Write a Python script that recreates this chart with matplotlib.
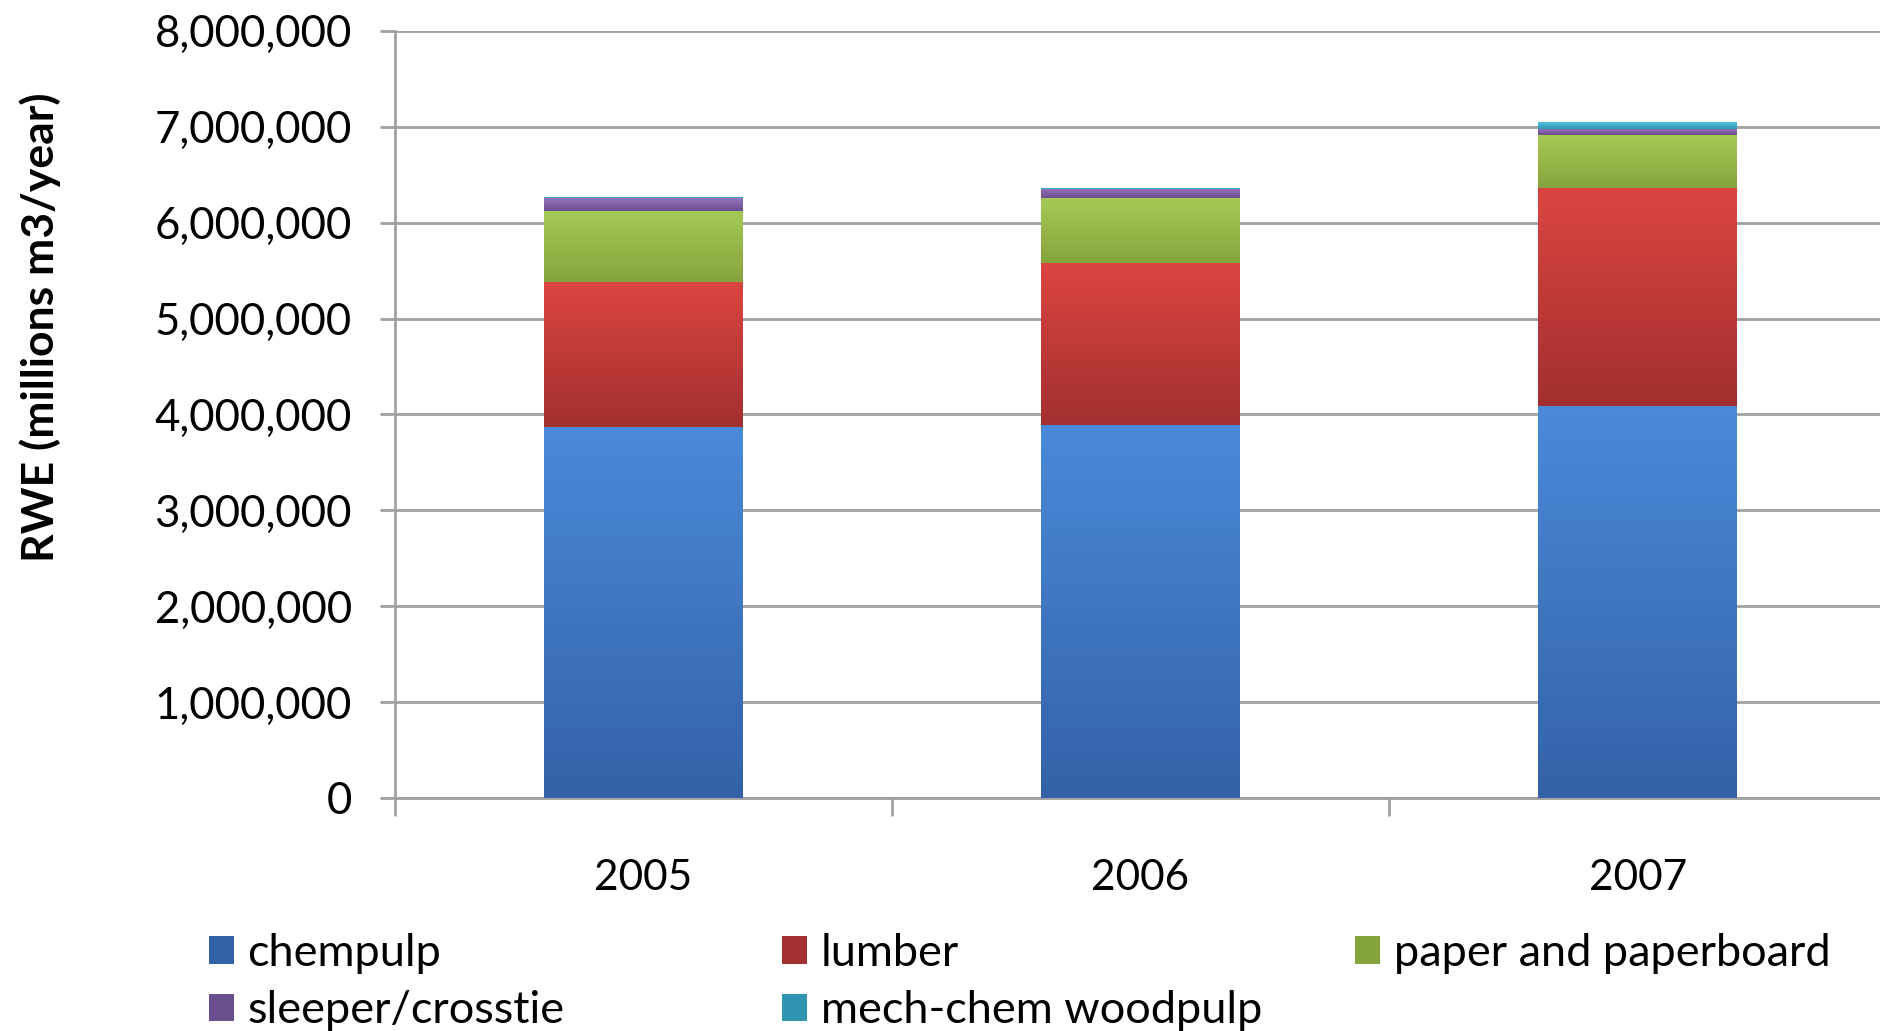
import matplotlib.pyplot as plt
import numpy as np
from matplotlib.colors import LinearSegmentedColormap
from matplotlib.ticker import FuncFormatter

# values (m3 RWE)
years = ['2005', '2006', '2007']
chempulp = [3867000, 3895000, 4084000]
lumber = [1518000, 1689000, 2279000]
paper = [741000, 675000, 548000]
sleeper = [134000, 94000, 69000]
mech_chem = [12000, 10000, 70000]

series = [
    ('chempulp', chempulp, '#4a8ad9', '#3462a8'),
    ('lumber', lumber, '#db4541', '#a33030'),
    ('paper and paperboard', paper, '#a6c955', '#86a43e'),
    ('sleeper/crosstie', sleeper, '#9674c0', '#6a4f8e'),
    ('mech-chem woodpulp', mech_chem, '#4fc3e0', '#2f95b0'),
]

plt.rcParams['font.family'] = ['Lato', 'DejaVu Sans']

fig = plt.figure(figsize=(18.81, 10.31), dpi=100)
ax = fig.add_axes([0.21, 0.226, 0.7927, 0.744])

x = np.arange(len(years))
width = 0.40
bottom = np.zeros(len(years))
handles = []
for name, vals, light, dark in series:
    vals = np.array(vals, dtype=float)
    bars = ax.bar(x, vals, width, bottom=bottom, color=dark, edgecolor='none',
                  label=name, zorder=3)
    cmap = LinearSegmentedColormap.from_list(name, [dark, light])
    grad = np.linspace(0, 1, 64).reshape(-1, 1)
    for rect in bars:
        x0, y0 = rect.get_x(), rect.get_y()
        im = ax.imshow(grad, cmap=cmap, aspect='auto', origin='lower',
                       extent=[x0, x0 + rect.get_width(), y0, y0 + rect.get_height()],
                       zorder=3.5)
        im.set_clip_path(rect)
    handles.append(bars)
    bottom += vals

ax.set_xlim(-0.5, 2.5)
ax.set_ylim(0, 8000000)
ax.set_yticks(np.arange(0, 8000001, 1000000))
ax.yaxis.set_major_formatter(FuncFormatter(lambda v, p: f'{int(v):,}'))

# category boundaries get the tick marks, labels sit in between
ax.set_xticks([-0.5, 0.5, 1.5, 2.5])
ax.set_xticklabels([])
ax.set_xticks(x, minor=True)
ax.set_xticklabels(years, minor=True)
ax.tick_params(axis='x', which='major', length=13, width=2, color='#a0a0a0')
ax.tick_params(axis='x', which='minor', length=0, pad=44, labelsize=30.5)
ax.tick_params(axis='y', length=11, width=2, color='#a0a0a0', pad=20, labelsize=31.5)

ax.grid(axis='y', color='#a0a0a0', linewidth=2, zorder=0)
ax.set_axisbelow(True)
for s in ['top', 'right']:
    ax.spines[s].set_visible(False)
for s in ['left', 'bottom']:
    ax.spines[s].set_color('#a0a0a0')
    ax.spines[s].set_linewidth(2)

ax.set_ylabel('RWE (millions m3/year)', fontsize=32, fontweight='bold')
ax.yaxis.label.set_verticalalignment('center')
ax.yaxis.set_label_coords(-0.238, 0.614)

# legend laid out in three fixed columns like the original
cols = [([0, 3], 0.111), ([1, 4], 0.416), ([2], 0.7205)]
for idx, xpos in cols:
    leg = fig.legend([handles[i] for i in idx], [series[i][0] for i in idx],
                     loc='upper left', bbox_to_anchor=(xpos, 0.095), frameon=False,
                     fontsize=32.5, handlelength=0.55, handleheight=0.55,
                     handletextpad=0.3, labelspacing=0.36, borderaxespad=0,
                     borderpad=0)

fig.savefig('out.png', dpi=100)
